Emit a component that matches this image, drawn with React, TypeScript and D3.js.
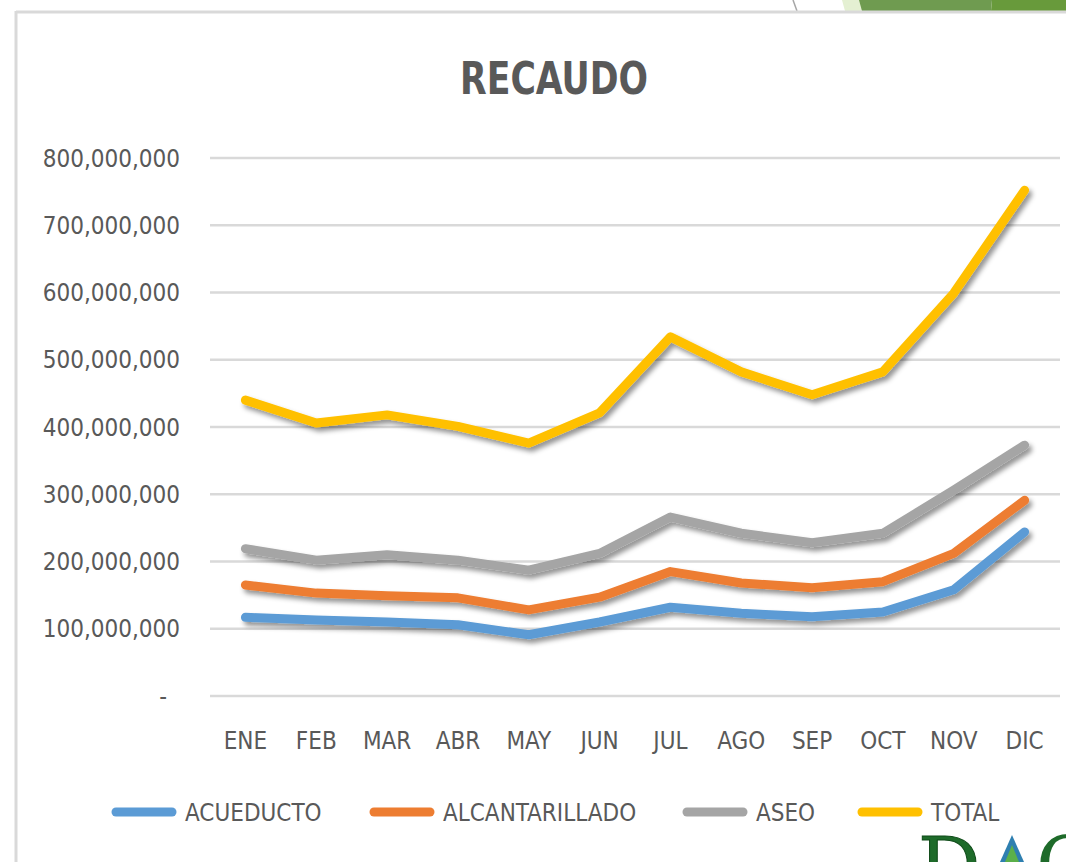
import React from "react";
import * as d3 from "d3";

const months = ["ENE", "FEB", "MAR", "ABR", "MAY", "JUN", "JUL", "AGO", "SEP", "OCT", "NOV", "DIC"];
const acueducto = [117, 113, 110, 106, 91, 110, 132, 123, 118, 125, 158, 244].map((v) => v * 1e6);
const alcantarillado = [165, 153, 149, 146, 128, 147, 185, 168, 161, 170, 212, 291].map((v) => v * 1e6);
const aseo = [219, 202, 210, 202, 187, 212, 266, 242, 228, 242, 306, 373].map((v) => v * 1e6);
const total = [440, 406, 418, 401, 376, 421, 534, 482, 448, 482, 599, 752].map((v) => v * 1e6);
const yTicks = [0, 100e6, 200e6, 300e6, 400e6, 500e6, 600e6, 700e6, 800e6];

const seriesNames = ["ACUEDUCTO", "ALCANTARILLADO", "ASEO", "TOTAL"];
const seriesValues = [acueducto, alcantarillado, aseo, total];
const seriesColors = ["#5B9BD5", "#ED7D31", "#A5A5A5", "#FFC000"];

const FONT = "'DejaVu Sans Condensed', 'DejaVu Sans', sans-serif";
const TEXT = "#595959";

export default function App() {
  const x = d3.scaleBand<string>().domain(months).range([210, 1060]).padding(0);
  const cx = (m: string) => (x(m) ?? 0) + x.bandwidth() / 2;
  const y = d3.scaleLinear().domain([0, 800e6]).range([696, 158]);
  const fmt = d3.format(",");
  const line = d3
    .line<number>()
    .x((_, i) => cx(months[i]))
    .y((d) => y(d));

  const legendStarts = [112, 370, 683, 858];

  return (
    <svg
      width={1066}
      height={862}
      style={{ position: "absolute", left: 0, top: 0, background: "#fff" }}
      fontFamily={FONT}
    >
      <defs>
        <filter id="shadow" x="-10%" y="-20%" width="130%" height="150%">
          <feDropShadow dx="3" dy="4" stdDeviation="2.5" floodColor="#000" floodOpacity="0.42" />
        </filter>
      </defs>
      <rect x={0} y={0} width={1066} height={862} fill="#fff" />

      {/* top decoration */}
      <line x1={793} y1={0} x2={797} y2={11} stroke="#a6a6a6" strokeWidth={1.5} />
      <polygon points="842,0 860,0 863,11 845,11" fill="#E4F0D2" />
      <polygon points="859,0 992,0 991,11 862,11" fill="#6F9B50" />
      <polygon points="992,0 1066,0 1066,11 991,11" fill="#689A3B" />

      {/* frame */}
      <line x1={16} y1={12} x2={1066} y2={12} stroke="#d9d9d9" strokeWidth={3} />
      <line x1={16} y1={11} x2={16} y2={862} stroke="#d9d9d9" strokeWidth={3} />

      {/* title */}
      <text
        x={554}
        y={94}
        textAnchor="middle"
        fontSize={44}
        fontWeight="bold"
        fill={TEXT}
        textLength={188}
        lengthAdjust="spacingAndGlyphs"
      >
        RECAUDO
      </text>

      {/* gridlines + y labels */}
      {yTicks.map((t) => (
        <g key={t}>
          <line x1={210} x2={1060} y1={y(t)} y2={y(t)} stroke="#d9d9d9" strokeWidth={2.5} />
          <text
            x={t === 0 ? 167 : 180}
            y={y(t)}
            dy="0.36em"
            textAnchor="end"
            fontSize={24}
            fill={TEXT}
            style={{ fontStretch: "condensed" }}
          >
            {t === 0 ? "-" : fmt(t)}
          </text>
        </g>
      ))}

      {/* x labels */}
      {months.map((m) => (
        <text
          key={m}
          x={cx(m)}
          y={740}
          dy="0.36em"
          textAnchor="middle"
          fontSize={24}
          fill={TEXT}
          style={{ fontStretch: "condensed" }}
        >
          {m}
        </text>
      ))}

      {/* series */}
      {seriesValues.map((vals, i) => (
        <path
          key={seriesNames[i]}
          d={line(vals) ?? ""}
          fill="none"
          stroke={seriesColors[i]}
          strokeWidth={9}
          strokeLinejoin="round"
          strokeLinecap="round"
          filter="url(#shadow)"
        />
      ))}

      {/* legend */}
      {seriesNames.map((n, i) => (
        <g key={n}>
          <line
            x1={legendStarts[i] + 4}
            x2={legendStarts[i] + 60}
            y1={812}
            y2={812}
            stroke={seriesColors[i]}
            strokeWidth={9}
            strokeLinecap="round"
          />
          <text
            x={legendStarts[i] + 73}
            y={812}
            dy="0.36em"
            fontSize={24}
            fill={TEXT}
            style={{ fontStretch: "condensed" }}
          >
            {n}
          </text>
        </g>
      ))}

      {/* logo fragment */}
      <text x={918} y={893} fontFamily="'DejaVu Serif', serif" fontSize={78} fill="#1E6B2A" stroke="#0E4A18" strokeWidth={1}>
        D
      </text>
      <path d="M1012,835 L1000,862 L1024,862 Z" fill="#2E7FB0" />
      <path d="M1012,845 L1005,862 L1019,862 Z" fill="#5BB04A" />
      <text x={1036} y={893} fontFamily="'DejaVu Serif', serif" fontSize={78} fill="#1E6B2A">
        C
      </text>
    </svg>
  );
}
